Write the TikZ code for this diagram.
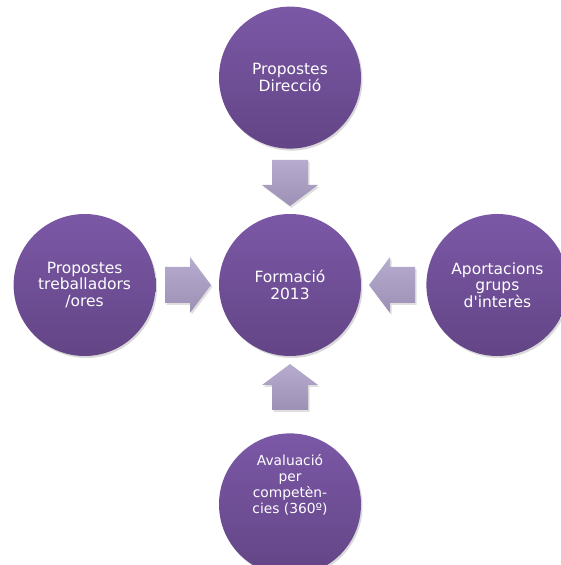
\documentclass[tikz,border=0pt]{standalone}
\usepackage{fontspec}
\newfontfamily\bubblefont{DejaVu Sans}
\usetikzlibrary{positioning,calc,shadows}

\definecolor{circtop}{HTML}{7B58A6}
\definecolor{circbot}{HTML}{634586}
\definecolor{arrtop}{HTML}{B8ABD0}
\definecolor{arrbot}{HTML}{9C90B4}

\begin{document}
\begin{tikzpicture}[x=1pt, y=1pt, node distance=65pt,
    bubble/.style={circle, minimum size=142pt, inner sep=0pt, top color=circtop, bottom color=circbot, text=white, align=center, font=\bubblefont\fontsize{15.5}{16.5}\selectfont, drop shadow={opacity=0.3, shadow xshift=1.5pt, shadow yshift=-2pt}},
    blockarrow/.style={top color=arrtop, bottom color=arrbot, drop shadow={opacity=0.25, shadow xshift=1.5pt, shadow yshift=-2pt}}]
    \useasboundingbox (0,0) rectangle (561,565);
    \node [bubble] (mid) at (290,280) {Formació\\2013};
    \node [bubble, above=of mid] (top) {Propostes\\Direcció};
    \node [bubble, left=63pt of mid] (lft) {Propostes\\treballadors\\/ores};
    \node [bubble, right=of mid] (rgt) {Aportacions\\grups\\d'interès};
    \node [bubble, below=77pt of mid] (bot) {};
    \node [text=white, align=center, font=\bubblefont\fontsize{13.8}{16}\selectfont] (botlabel) at ([yshift=20pt]bot.center) {Avaluació\\per\\competèn-\\cies (360º)};
    % block arrows pointing to the centre
    \foreach \src in {top,lft,rgt,bot}
      \path [blockarrow] ($(mid)!79pt!(\src)$)
        -- ($(mid)!100pt!(\src)!28pt!90:(\src)$) -- ($(mid)!100pt!(\src)!18pt!90:(\src)$)
        -- ($(mid)!125pt!(\src)!18pt!90:(\src)$) -- ($(mid)!125pt!(\src)!18pt!-90:(\src)$)
        -- ($(mid)!100pt!(\src)!18pt!-90:(\src)$) -- ($(mid)!100pt!(\src)!28pt!-90:(\src)$) -- cycle;
\end{tikzpicture}
\end{document}
